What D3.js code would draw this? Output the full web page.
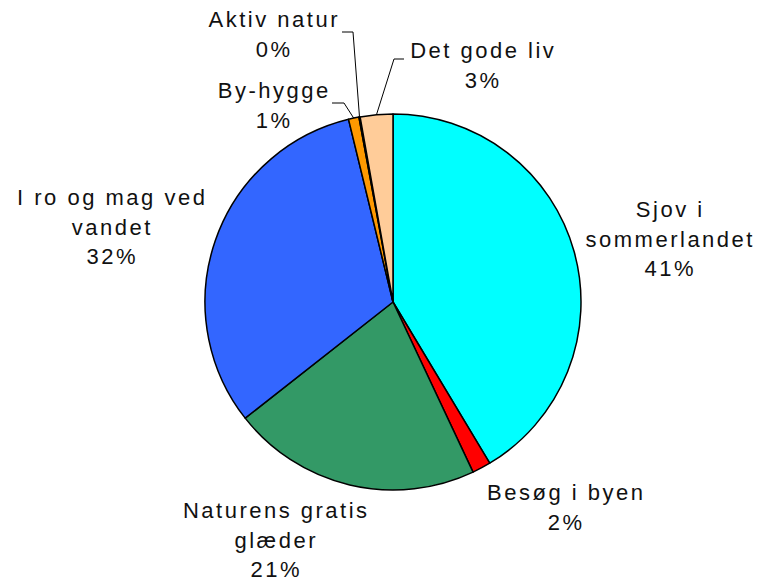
<!DOCTYPE html>
<html>
<head>
<meta charset="utf-8">
<script src="https://cdn.jsdelivr.net/npm/d3@7"></script>
<style>
	body { margin: 0; background: #fff; }
	text { font-family: "Liberation Sans", Arial, sans-serif; font-size: 22px; letter-spacing: 2.5px; fill: #111; }
</style>
</head>
<body>
<svg id="chart"></svg>
<script>
const width = 761
const height = 583

// slices, clockwise from 12 o'clock
const categories = ["Sjov i sommerlandet", "Besøg i byen", "Naturens gratis glæder", "I ro og mag ved vandet", "By-hygge", "Aktiv natur", "Det gode liv"]
const values = [41.4, 1.6, 21.4, 31.8, 0.9, 0.1, 2.8]
const colors = ["#00FFFF", "#FF0000", "#339966", "#3366FF", "#FF9900", "#993366", "#FFCC99"]

// label text lines (name split as in the original)
const labelLines = [
	["Sjov i", "sommerlandet"],
	["Besøg i byen"],
	["Naturens gratis", "glæder"],
	["I ro og mag ved", "vandet"],
	["By-hygge"],
	["Aktiv natur"],
	["Det gode liv"]
]

// label layout: centre x, first baseline y, leader elbow (null = no leader)
const labelLayout = [
	{ x: 669, y: 217, elbow: null },
	{ x: 565, y: 500, elbow: null },
	{ x: 275, y: 518, elbow: null },
	{ x: 111, y: 205, elbow: null },
	{ x: 273, y: 98, elbow: [[332, 103], [344, 103]] },
	{ x: 273, y: 27, elbow: [[342, 32], [353, 32]] },
	{ x: 482, y: 58, elbow: [[404, 59], [394, 59]] }
]

const cx = 393
const cy = 302
const radius = 188
const lineHeight = 29.5

const svg = d3.select("#chart")
	.attr("width", width)
	.attr("height", height)

const total = d3.sum(values)
const pieData = d3.pie().sort(null).value(d => d)(values)
const arc = d3.arc().innerRadius(0).outerRadius(radius)

const g = svg.append("g").attr("transform", `translate(${cx},${cy})`)

g.selectAll(".slice")
	.data(pieData)
	.enter().append("path")
	.attr("class", "slice")
	.attr("d", arc)
	.attr("fill", (d, i) => colors[i])
	.attr("stroke", "#000")
	.attr("stroke-width", 1.5)
	.attr("stroke-linejoin", "round")

// leader lines for the small slices
pieData.forEach((d, i) => {
	const lay = labelLayout[i]
	if (!lay.elbow) return
	const mid = (d.startAngle + d.endAngle) / 2
	const end = [cx + radius * Math.sin(mid), cy - radius * Math.cos(mid)]
	const pts = lay.elbow.concat([end])
	svg.append("path")
		.attr("d", d3.line()(pts))
		.attr("fill", "none")
		.attr("stroke", "#000")
		.attr("stroke-width", 1)
})

// labels
pieData.forEach((d, i) => {
	const lay = labelLayout[i]
	const pct = Math.round(values[i] / total * 100) + "%"
	const lines = labelLines[i].concat([pct])
	const t = svg.append("text")
		.attr("text-anchor", "middle")
	lines.forEach((ln, k) => {
		t.append("tspan")
			.attr("x", lay.x + 1.25)
			.attr("y", lay.y + k * lineHeight)
			.text(ln)
	})
})
</script>
</body>
</html>
